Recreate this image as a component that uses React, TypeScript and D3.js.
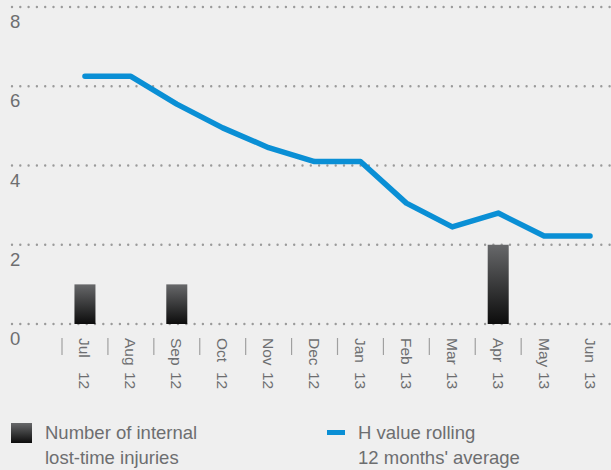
import React, { useRef, useEffect } from 'react';
import * as d3 from 'd3';

const months = ['Jul', 'Aug', 'Sep', 'Oct', 'Nov', 'Dec', 'Jan', 'Feb', 'Mar', 'Apr', 'May', 'Jun'];
const years = ['12', '12', '12', '12', '12', '12', '13', '13', '13', '13', '13', '13'];
const injuries = [1, 0, 1, 0, 0, 0, 0, 0, 0, 2, 0, 0];
const hValue = [6.25, 6.25, 5.55, 4.95, 4.45, 4.1, 4.1, 3.05, 2.45, 2.8, 2.22, 2.22];
const yTicks = [0, 2, 4, 6, 8];

function App() {
  const svgRef = useRef<SVGSVGElement>(null);

  useEffect(() => {
    const svg = d3.select(svgRef.current);
    svg.selectAll('*').remove();
    const font = '"Liberation Sans", Arial, sans-serif';
    const grey = '#6d6e70';

    const x = d3.scaleBand().domain(months).range([62, 613]);
    const y = d3.scaleLinear().domain([0, 8]).range([324, 7]);

    const defs = svg.append('defs');
    const grad = defs.append('linearGradient')
      .attr('id', 'barGrad').attr('x1', 0).attr('y1', 0).attr('x2', 0).attr('y2', 1);
    grad.append('stop').attr('offset', '0%').attr('stop-color', '#67686a');
    grad.append('stop').attr('offset', '100%').attr('stop-color', '#0c0c0c');

    // background
    svg.append('rect').attr('width', 611).attr('height', 470).attr('fill', '#efefef');

    // dotted gridlines + y labels
    yTicks.forEach(t => {
      svg.append('line')
        .attr('x1', 12).attr('x2', 611)
        .attr('y1', y(t)).attr('y2', y(t))
        .attr('stroke', '#9a9a9a').attr('stroke-width', 2.4)
        .attr('stroke-linecap', 'round')
        .attr('stroke-dasharray', '0,8.3');
      svg.append('text')
        .attr('x', 10).attr('y', y(t) + 21)
        .attr('font-family', font).attr('font-size', 18.5)
        .attr('fill', grey).text(t);
    });

    // bars
    svg.selectAll('.bar')
      .data(injuries.map((v, i) => ({ m: months[i], v })).filter(d => d.v > 0))
      .join('rect')
      .attr('class', 'bar')
      .attr('x', d => x(d.m)! + x.bandwidth() / 2 - 10.5)
      .attr('width', 21)
      .attr('y', d => y(d.v))
      .attr('height', d => y(0) - y(d.v))
      .attr('fill', 'url(#barGrad)');

    // line
    const line = d3.line<number>()
      .x((_, i) => x(months[i])! + x.bandwidth() / 2)
      .y(d => y(d));
    svg.append('path')
      .attr('d', line(hValue))
      .attr('fill', 'none')
      .attr('stroke', '#0a8fd5')
      .attr('stroke-width', 5.5)
      .attr('stroke-linecap', 'round')
      .attr('stroke-linejoin', 'round');

    // separators
    months.slice(0, -1).forEach(m => {
      const xs = x(m)!;
      svg.append('line')
        .attr('x1', xs).attr('x2', xs).attr('y1', 338).attr('y2', 355)
        .attr('stroke', '#a0a0a0').attr('stroke-width', 1.2);
    });

    // x labels (rotated)
    months.forEach((m, i) => {
      const cx = x(m)! + x.bandwidth() / 2;
      const g = svg.append('g').attr('transform', `translate(${cx},338) rotate(90)`);
      g.append('text').attr('x', 0).attr('y', 5.5)
        .attr('font-family', font).attr('font-size', 15.5).attr('fill', grey)
        .text(m);
      g.append('text').attr('x', 34).attr('y', 5.5)
        .attr('font-family', font).attr('font-size', 15.5).attr('fill', grey)
        .text(years[i]);
    });

    // legend
    svg.append('rect').attr('x', 11).attr('y', 423).attr('width', 21).attr('height', 20)
      .attr('fill', 'url(#barGrad)');
    svg.append('rect').attr('x', 327).attr('y', 430).attr('width', 18).attr('height', 5)
      .attr('fill', '#0a8fd5');
    const leg = [
      { x: 45, lines: ['Number of internal', 'lost-time injuries'] },
      { x: 358, lines: ['H value rolling', "12 months' average"] },
    ];
    leg.forEach(l => {
      l.lines.forEach((t, j) => {
        svg.append('text').attr('x', l.x).attr('y', 439 + j * 25)
          .attr('font-family', font).attr('font-size', 18.5).attr('fill', grey)
          .text(t);
      });
    });
  }, []);

  return <svg ref={svgRef} width={611} height={470} style={{ position: 'absolute', left: 0, top: 0 }} />;
}

export default App;
